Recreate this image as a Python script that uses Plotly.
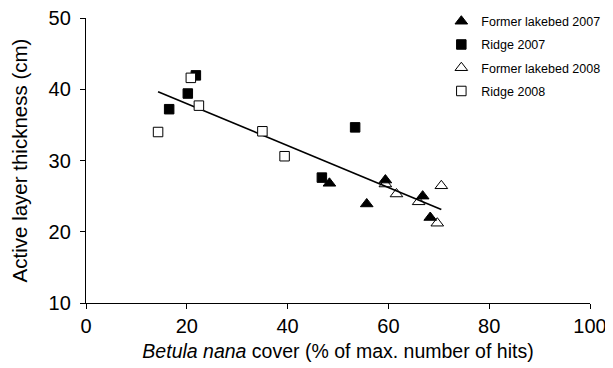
import numpy as np
import plotly.graph_objects as go

# Betula nana cover (%) and active layer thickness (cm)
lake07_x = [48.3, 55.7, 59.4, 66.8, 68.3]
lake07_y = [26.8, 23.9, 27.25, 25.0, 22.0]
ridge07_x = [16.5, 20.2, 21.8, 53.4, 46.8]
ridge07_y = [37.2, 39.4, 41.95, 34.65, 27.6]
lake08_x = [59.4, 61.6, 66.0, 70.5, 69.7]
lake08_y = [26.7, 25.3, 24.2, 26.45, 21.2]
ridge08_x = [14.3, 20.8, 22.4, 35.0, 39.4]
ridge08_y = [34.0, 41.6, 37.7, 34.1, 30.6]

x_ticks = [0, 20, 40, 60, 80, 100]
y_ticks = [10, 20, 30, 40, 50]

FONT = "Liberation Sans, Arial, sans-serif"

all_x = np.array(lake07_x + ridge07_x + lake08_x + ridge08_x)
all_y = np.array(lake07_y + ridge07_y + lake08_y + ridge08_y)
slope, intercept = np.polyfit(all_x, all_y, 1)
fit_x = np.array([all_x.min(), all_x.max()])
fit_y = slope * fit_x + intercept

fig = go.Figure()
fig.add_trace(go.Scatter(x=fit_x, y=fit_y, mode="lines", line=dict(color="black", width=1.6),
                         showlegend=False, hoverinfo="skip"))

series = [
    ("Former lakebed 2007", lake07_x, lake07_y, "triangle-up", "black", 11),
    ("Ridge 2007", ridge07_x, ridge07_y, "square", "black", 9.5),
    ("Former lakebed 2008", lake08_x, lake08_y, "triangle-up-open", "black", 11),
    ("Ridge 2008", ridge08_x, ridge08_y, "square", "white", 9.5),
]
for name, xs, ys, sym, fill, size in series:
    fig.add_trace(go.Scatter(
        x=xs, y=ys, mode="markers", name=name, legendgroup=name,
        marker=dict(symbol=sym, size=size, color=fill,
                    line=dict(color="black", width=1)),
    ))

# page body has an 8px default margin: figure is offset to compensate
fig.update_layout(
    width=613, height=360,
    margin=dict(l=78, r=31, t=10, b=65, autoexpand=False),
    paper_bgcolor="white", plot_bgcolor="white",
    font=dict(family=FONT, size=20, color="black"),
    legend=dict(x=0.705, y=1.04, xanchor="left", yanchor="top",
                font=dict(size=12.5, family=FONT), bgcolor="rgba(0,0,0,0)",
                itemwidth=30, tracegroupgap=4),
    xaxis=dict(range=[0, 100], tickvals=x_ticks, showline=True, linecolor="black", linewidth=1.3,
               ticks="outside", ticklen=5, tickcolor="black", tickwidth=1.3,
               ticklabeloverflow="allow",
               showgrid=False, zeroline=False, tickfont=dict(size=20),
               title=dict(text="<i>Betula nana</i> cover (% of max. number of hits)", standoff=8,
                          font=dict(size=19.5))),
    yaxis=dict(range=[10, 50], tickvals=y_ticks, showline=True, linecolor="black", linewidth=1.3,
               ticks="outside", ticklen=5, tickcolor="black", tickwidth=1.3,
               ticklabelstandoff=5, ticklabeloverflow="allow",
               showgrid=False, zeroline=False, tickfont=dict(size=20),
               title=dict(text="Active layer thickness (cm)", standoff=16, font=dict(size=20.5))),
)

fig.write_html("out.html")
